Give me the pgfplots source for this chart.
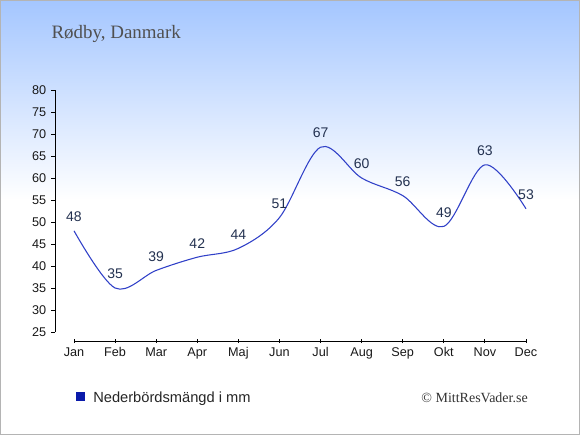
\documentclass[border=0pt]{standalone}
\usepackage{pgfplots}
\pgfplotsset{compat=1.18}
\usepackage{fontspec}
\setmainfont{Liberation Sans}
\newfontfamily\seriffont{Liberation Serif}
\definecolor{topblue}{HTML}{A4C6FF}
\definecolor{bordergrey}{HTML}{B4B4B4}
\definecolor{linec}{HTML}{3040C8}
\definecolor{labelc}{HTML}{233150}
\definecolor{legblue}{HTML}{0A1AAA}
\definecolor{titlec}{HTML}{505050}
\pgfdeclareverticalshading{bg}{100bp}{color(0bp)=(white); color(52bp)=(white); color(75bp)=(topblue); color(100bp)=(topblue)}
\begin{document}
\begin{tikzpicture}[x=1pt,y=1pt]
\shade[shading=bg] (0,0) rectangle (435,326.25);
\draw[bordergrey, line width=0.75pt] (0.375,0.375) rectangle (434.625,325.875);
\node[anchor=base west, inner sep=0pt, text=titlec, font=\seriffont\fontsize{14.2}{16}\selectfont] at (38.5,297.5) {Rødby, Danmark};
\begin{axis}[
  at={(55.5pt,77.25pt)}, anchor=south west,
  scale only axis, width=339pt, height=181.5pt,
  xmin=0, xmax=11, ymin=25, ymax=80,
  axis x line=bottom, axis y line=left,
  axis line style={-, black, line width=0.75pt},
  axis x line shift=6.75pt, axis y line shift=14.25pt,
  xtick={0,...,11},
  xticklabels={Jan,Feb,Mar,Apr,Maj,Jun,Jul,Aug,Sep,Okt,Nov,Dec},
  ytick={25,30,...,80},
  x tick style={black, line width=0.75pt},
  y tick style={black, line width=0.75pt},
  xtick align=center, ytick align=outside,
  major tick length=3pt,
  tick label style={font=\fontsize{9.5}{11}\selectfont, text=black!90},
  /pgf/number format/assume math mode=true,
  clip=false,
]
\addplot[linec, line width=0.8pt, smooth, tension=0.55,
  nodes near coords,
  every node near coord/.append style={font=\fontsize{10.5}{12}\selectfont, text=labelc, anchor=south, inner sep=0pt, yshift=6.5pt}]
  coordinates {(0,48) (1,35) (2,39) (3,42) (4,44) (5,51) (6,67) (7,60) (8,56) (9,49) (10,63) (11,53)};
\end{axis}
\fill[legblue] (57,25.5) rectangle (63.75,32.25);
\node[anchor=base west, inner sep=0pt, text=black!85, font=\fontsize{11}{13}\selectfont] at (69.75,24.75) {Nederbördsmängd i mm};
\node[anchor=base east, inner sep=0pt, text=black!80, font=\seriffont\fontsize{10.5}{12}\selectfont] at (396,24.5) {© MittResVader.se};
\pgfresetboundingbox
\path (0,0) rectangle (435,326.25);
\end{tikzpicture}
\end{document}
